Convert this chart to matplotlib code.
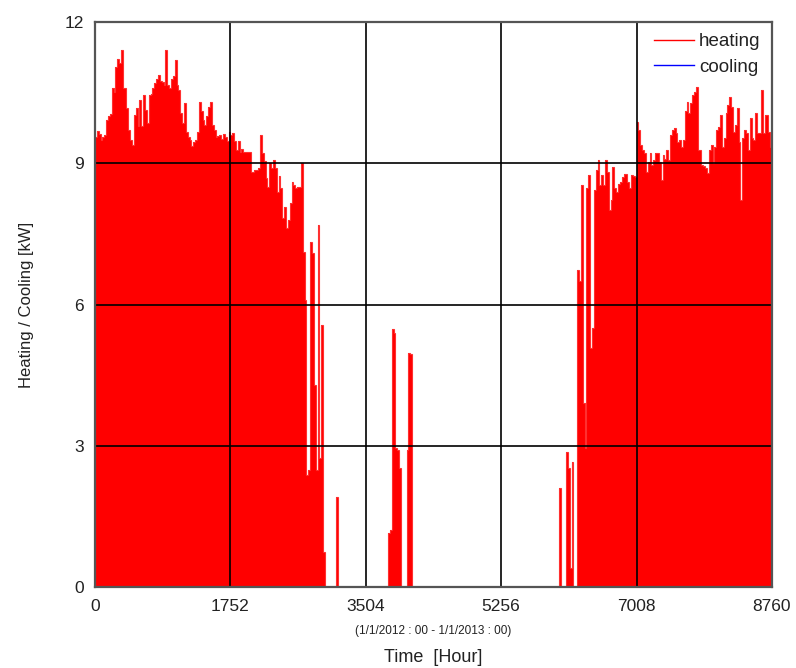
import numpy as np
import matplotlib
matplotlib.use('Agg')
import matplotlib.pyplot as plt

# 日平均负荷 [kW]，2012 年 365 天（0 - 8760 h）
heat_jan_feb = [9.56, 9.69, 9.62, 9.5, 9.56, 9.6, 9.92, 10.0, 10.05, 10.59,
                10.52, 11.05, 11.21, 11.12, 11.41, 10.59, 10.59, 10.17, 9.7, 9.5,
                9.39, 10.03, 10.17, 9.8, 10.34, 9.8, 10.45, 10.13, 9.85, 10.45,
                10.48, 10.59, 10.7, 10.8, 10.87, 10.75, 10.73, 10.66, 11.41, 10.66,
                10.59, 10.8, 10.85]
heat_feb_mar = [11.2, 10.66, 10.56, 10.06, 9.85, 10.27, 9.67, 9.56, 9.5, 9.37,
                9.45, 9.5, 9.67, 10.31, 10.1, 9.92, 9.82, 10.0, 10.2, 10.31,
                9.81, 9.71, 9.56, 9.57, 9.6, 9.52, 9.62, 9.55, 9.47, 9.67,
                9.6, 9.65, 9.47, 9.28, 9.47, 9.25, 9.3, 9.25, 9.25, 9.23,
                9.25, 8.82, 8.82]
heat_apr_may = [8.86, 8.86, 8.9, 9.6, 9.21, 9.04, 8.68, 8.5, 9.0, 8.9,
                9.07, 8.9, 8.4, 8.72, 8.48, 7.83, 8.08, 7.62, 7.8, 8.15,
                8.61, 8.54, 8.48, 8.5, 8.5, 9.0, 7.12, 6.1, 2.38, 2.48,
                7.33, 7.1, 4.29, 2.48, 7.69, 2.74, 5.56, 0.75]
heat_may_jun = [0, 0, 0, 0, 0, 0, 1.92, 0, 0, 0,
                0, 0, 0, 0, 0, 0, 0, 0, 0, 0,
                0, 0, 0, 0, 0, 0, 0, 0, 0, 0,
                0, 0, 0, 0, 1.15, 1.2, 5.49, 5.4, 2.95, 2.9,
                2.53, 0, 0, 0, 2.9, 4.97, 4.95]
heat_summer = [0.0] * 79
heat_sep_oct = [2.1, 0, 0, 0, 2.87, 2.52, 0.4, 2.66, 0, 0,
                6.73, 6.49, 8.54, 3.9, 2.95, 8.47, 8.75, 5.08, 5.5, 8.43,
                8.86, 9.06, 8.54, 8.75, 8.54, 9.06, 8.82, 8.0, 8.22, 8.93,
                8.47, 8.4, 8.57, 8.61, 8.71, 8.78, 8.78, 8.6, 8.47, 8.75,
                8.72, 8.7]
heat_nov = [9.88, 9.71, 9.39, 9.28, 9.21, 8.82, 9.03, 9.21, 8.96, 9.06,
            9.21, 9.21, 9.03, 8.64, 9.17, 9.1, 9.28, 9.06, 9.6, 9.71,
            9.74, 9.65, 9.46, 9.5, 9.35, 9.5, 10.1, 10.31, 10.06, 10.27,
            10.45, 10.52, 10.63, 9.28]
heat_dec = [9.28, 8.96, 8.94, 8.89, 8.79, 9.28, 9.39, 9.0, 9.35, 9.71,
            9.78, 10.03, 9.35, 9.53, 10.06, 10.24, 10.41, 10.2, 9.67, 9.81,
            10.17, 9.46, 8.22, 9.53, 9.71, 9.64, 9.28, 9.96, 9.53, 9.5,
            10.06, 9.64, 9.64, 10.56, 9.64, 10.03, 10.03, 9.67, 9.35]

heating = np.array(heat_jan_feb + heat_feb_mar + heat_apr_may + heat_may_jun
                   + heat_summer + heat_sep_oct + heat_nov + heat_dec)
cooling = np.zeros(len(heating))
hours = np.arange(len(heating) + 1) * 24

x_ticks = [0, 1752, 3504, 5256, 7008, 8760]
y_ticks = [0, 3, 6, 9, 12]

plt.rcParams['font.family'] = ['Liberation Sans', 'DejaVu Sans']

fig = plt.figure(figsize=(7.96, 6.68), dpi=100)
ax = fig.add_axes([0.1193, 0.1213, 0.8505, 0.8457])

ax.stairs(cooling, hours, color='blue', linewidth=1, zorder=1)
ax.stairs(heating, hours, fill=True, color='red', linewidth=0, zorder=2)
ax.stairs(heating, hours, color='#ff3030', linewidth=0.8, zorder=2)

ax.set_xlim(0, 8760)
ax.set_ylim(0, 12)
ax.set_xticks(x_ticks)
ax.set_yticks(y_ticks)
ax.tick_params(axis='x', length=0, labelsize=12.5, pad=9, colors='#222222')
ax.tick_params(axis='y', length=0, labelsize=12.5, pad=8, colors='#222222')
ax.grid(True, color='black', linewidth=1.2)
ax.set_axisbelow(False)
for s in ax.spines.values():
    s.set_color('#555555')
    s.set_linewidth(1.6)
    s.set_zorder(5)

ax.set_ylabel('Heating / Cooling [kW]', fontsize=12, labelpad=22, color='#222222')
ax.set_xlabel('Time  [Hour]', fontsize=13, labelpad=25, color='#222222')
ax.text(0.5, -0.078, '(1/1/2012 : 00 - 1/1/2013 : 00)', transform=ax.transAxes,
        ha='center', va='center', fontsize=8.5, color='#222222')

h1, = ax.plot([], [], color='red', linewidth=1, label='heating')
h2, = ax.plot([], [], color='blue', linewidth=1, label='cooling')
leg = ax.legend(handles=[h1, h2], loc='upper right', frameon=False, fontsize=13.5,
                handlelength=2.1, handletextpad=0.3, labelspacing=0.45,
                borderaxespad=0.2)
for t in leg.get_texts():
    t.set_color('#222222')

fig.savefig('out.png', dpi=100)
